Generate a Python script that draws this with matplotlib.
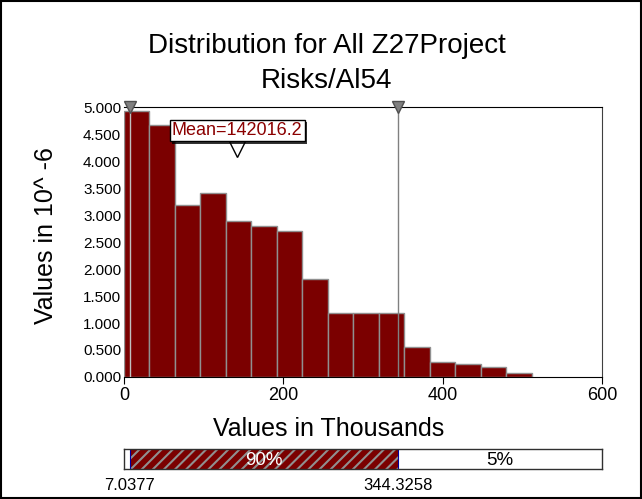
import matplotlib
matplotlib.use("Agg")
import matplotlib.pyplot as plt
from matplotlib.patches import Rectangle
import matplotlib.patheffects as pe

plt.rcParams['font.family'] = ['Liberation Sans', 'DejaVu Sans']
plt.rcParams['hatch.linewidth'] = 1.5

# histogram data (values in 10^-6, x in thousands)
bin_left = [0, 32, 64, 96, 128, 160, 192, 224, 256, 288, 320, 352, 384, 416, 448, 480]
bin_width = 32
density = [4.92, 4.66, 3.19, 3.41, 2.88, 2.80, 2.70, 1.81, 1.19, 1.19, 1.19, 0.56, 0.28, 0.24, 0.19, 0.08]

mean_val = 142.0162
mean_label = "Mean=142016.2"
lo_val = 7.0377
hi_val = 344.3258
pct_labels = ["5%", "90%", "5%"]

x_ticks = [0, 200, 400, 600]
y_ticks = [0.0, 0.5, 1.0, 1.5, 2.0, 2.5, 3.0, 3.5, 4.0, 4.5, 5.0]

fig = plt.figure(figsize=(6.42, 4.99), dpi=100)

# outer frame
fig.patches.append(Rectangle((0.002, 0.002), 0.996, 0.996, transform=fig.transFigure,
                             fill=False, edgecolor='black', linewidth=1.5))

fig.text(0.509, 0.894, "Distribution for All Z27Project", ha='center', va='baseline', fontsize=20)
fig.text(0.509, 0.824, "Risks/Al54", ha='center', va='baseline', fontsize=20)

ax = fig.add_axes([0.1931, 0.2445, 0.7445, 0.541])
ax.bar(bin_left, density, width=bin_width, align='edge', color='#7b0000',
       edgecolor='#909090', linewidth=1.0, zorder=2)

ax.set_xlim(0, 600)
ax.set_ylim(0, 5.0)
ax.set_xticks(x_ticks)
ax.set_yticks(y_ticks)
ax.set_yticklabels(["%.3f" % v for v in y_ticks])
ax.tick_params(axis='y', length=0, labelsize=11, pad=2)
ax.tick_params(axis='x', length=5, labelsize=13, direction='out', pad=2)
for s in ['top', 'bottom']:
    ax.spines[s].set_color('black')
ax.spines['right'].set_color('#404040')
ax.spines['left'].set_visible(False)

# percentile lines and markers
ax.axvline(lo_val, color='#c0c0c0', linewidth=1, zorder=3)
ax.axvline(hi_val, color='#808080', linewidth=1, zorder=3)
ax.plot([lo_val, hi_val], [5.0, 5.0], linestyle='none', marker='v', markersize=8,
        markerfacecolor='#808080', markeredgecolor='#505050', clip_on=False, zorder=5)

# mean label with pointer
ax.plot([mean_val], [4.22], linestyle='none', marker='v', markersize=11,
        markerfacecolor='white', markeredgecolor='black', markeredgewidth=1, zorder=6)
mt = ax.text(mean_val, 4.57, mean_label, ha='center', va='center', fontsize=13, color='#8b0000',
             zorder=7, bbox=dict(boxstyle='square,pad=0.12', facecolor='white', edgecolor='black',
                                 linewidth=1))
mt.get_bbox_patch().set_path_effects([pe.SimplePatchShadow(offset=(2, -2), shadow_rgbFace='black',
                                                           alpha=0.8), pe.Normal()])

fig.text(0.072, 0.527, "Values in 10^ -6", rotation=90, ha='center', va='center', fontsize=18)
fig.text(0.512, 0.126, "Values in Thousands", ha='center', va='baseline', fontsize=18)

# percentile bar underneath
bx = fig.add_axes([0.1931, 0.0601, 0.7445, 0.040])
bx.set_xlim(0, 600)
bx.set_ylim(0, 1)
bx.add_patch(Rectangle((lo_val, 0), hi_val - lo_val, 1, facecolor='#7b0000',
                       edgecolor='#909090', hatch='///', linewidth=0))
bx.axvline(lo_val, color='#0000a0', linewidth=0.8)
bx.axvline(hi_val, color='#0000a0', linewidth=0.8)
bx.text((lo_val + hi_val) / 2, 0.45, pct_labels[1], ha='center', va='center', fontsize=13.5, color='white')
bx.text((hi_val + 600) / 2, 0.45, pct_labels[2], ha='center', va='center', fontsize=13.5, color='black')
bx.text(lo_val, -0.85, "%.4f" % lo_val, ha='center', va='center', fontsize=12, clip_on=False)
bx.text(hi_val, -0.85, "%.4f" % hi_val, ha='center', va='center', fontsize=12, clip_on=False)
bx.set_xticks([])
bx.set_yticks([])
for s in bx.spines.values():
    s.set_color('#303030')
    s.set_linewidth(1)

fig.savefig('out.png', dpi=100)
